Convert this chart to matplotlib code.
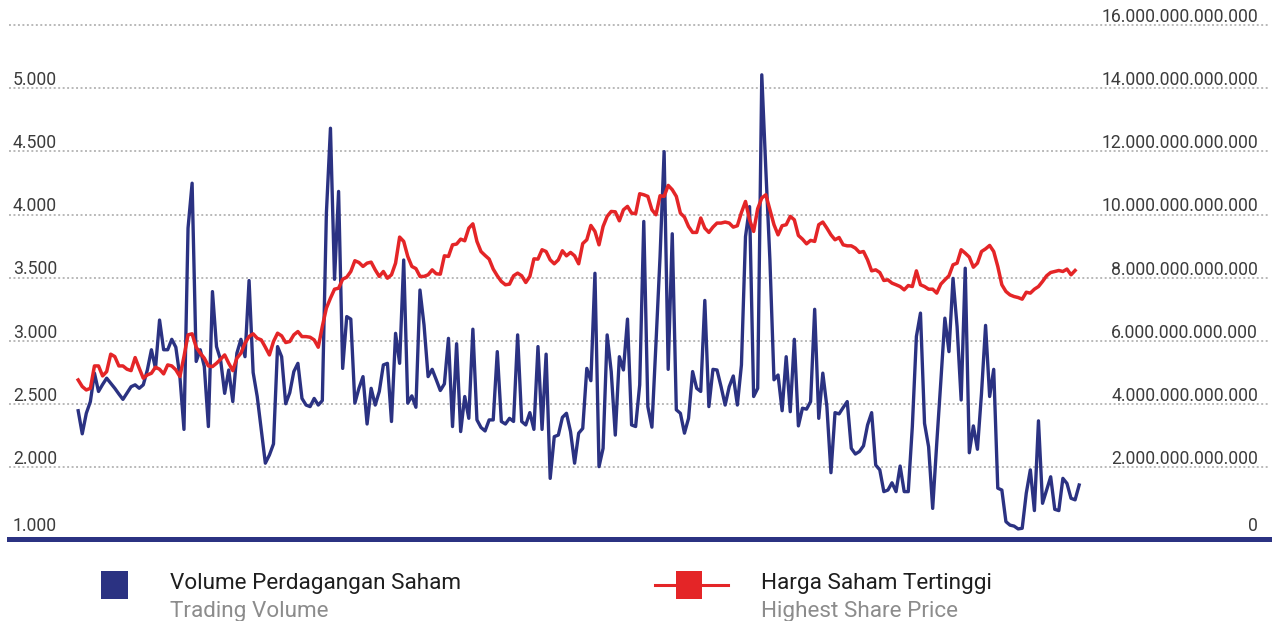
import matplotlib.pyplot as plt
from matplotlib.patches import Rectangle
from matplotlib.lines import Line2D

plt.rcParams['font.family'] = ['Roboto', 'DejaVu Sans']

# daily trading volume, in trillions (right axis)
volume_trillion = [
    3.79, 3.06, 3.71, 4.08, 4.98, 4.40, 4.62, 4.82, 4.66, 4.50,
    4.32, 4.15, 4.35, 4.55, 4.61, 4.50, 4.61, 5.08, 5.72, 5.13,
    6.66, 5.72, 5.72, 6.05, 5.80, 4.87, 3.20, 9.57, 10.99, 5.35,
    5.72, 5.19, 3.29, 7.56, 5.82, 5.40, 4.34, 5.08, 4.08, 5.61,
    6.05, 5.50, 7.91, 5.00, 4.24, 3.18, 2.13, 2.39, 2.74, 5.82,
    5.50, 4.01, 4.36, 5.03, 5.29, 4.18, 3.97, 3.92, 4.18, 3.97,
    4.11, 10.04, 12.73, 7.95, 10.73, 5.13, 6.77, 6.69, 4.03, 4.50,
    4.87, 3.37, 4.50, 3.97, 4.40, 5.24, 5.29, 3.45, 6.24, 5.29,
    8.56, 4.03, 4.26, 3.90, 7.61, 6.50, 4.87, 5.10, 4.77, 4.43,
    4.64, 6.08, 3.29, 5.91, 3.13, 4.24, 3.55, 6.37, 3.50, 3.26,
    3.15, 3.50, 3.50, 5.66, 3.45, 3.37, 3.55, 3.45, 6.19, 3.45,
    3.34, 3.73, 3.20, 5.82, 3.20, 5.58, 1.65, 2.97, 3.02, 3.58,
    3.71, 3.13, 2.13, 3.08, 3.23, 5.13, 4.74, 8.14, 2.02, 2.60,
    6.19, 5.03, 3.02, 5.50, 5.08, 6.69, 3.34, 3.29, 4.61, 9.78,
    3.92, 3.27, 5.93, 8.67, 11.99, 5.10, 9.39, 3.82, 3.71, 3.08,
    3.55, 5.03, 4.50, 4.40, 7.28, 3.92, 5.10, 5.08, 4.55, 3.97,
    4.55, 4.89, 3.97, 5.24, 9.30, 10.25, 4.24, 4.50, 14.42, 11.41,
    8.56, 4.77, 4.92, 3.79, 5.50, 3.76, 6.05, 3.31, 3.87, 3.84,
    4.08, 7.00, 3.55, 4.98, 3.92, 1.83, 3.73, 3.69, 3.89, 4.08,
    2.60, 2.42, 2.50, 2.68, 3.34, 3.73, 2.07, 1.92, 1.23, 1.28,
    1.51, 1.23, 2.04, 1.23, 1.23, 3.29, 6.14, 6.88, 3.39, 2.65,
    0.70, 2.76, 4.71, 6.72, 5.66, 7.98, 6.45, 4.13, 8.30, 2.46,
    3.31, 2.57, 4.34, 6.49, 4.24, 5.10, 1.34, 1.28, 0.28, 0.17,
    0.14, 0.05, 0.07, 1.18, 1.92, 0.63, 3.47, 0.86, 1.28, 1.70,
    0.67, 0.63, 1.65, 1.49, 1.02, 0.97, 1.44,
]

# daily highest share price (left axis)
price = [
    2691, 2639, 2612, 2625, 2802, 2802, 2723, 2757, 2895, 2876,
    2802, 2802, 2776, 2765, 2868, 2784, 2705, 2731, 2744, 2792,
    2776, 2739, 2810, 2802, 2771, 2718, 2876, 3048, 3056, 2950,
    2903, 2863, 2802, 2797, 2823, 2855, 2889, 2823, 2765, 2863,
    2903, 2982, 3035, 3056, 3021, 3008, 2950, 2889, 2995, 3061,
    3040, 2987, 2995, 3048, 3074, 3034, 3034, 3029, 3008, 2950,
    3114, 3259, 3338, 3409, 3417, 3488, 3504, 3549, 3634, 3620,
    3589, 3615, 3623, 3562, 3510, 3549, 3496, 3523, 3615, 3821,
    3787, 3668, 3589, 3572, 3510, 3510, 3523, 3562, 3531, 3528,
    3673, 3668, 3760, 3766, 3805, 3792, 3892, 3926, 3787, 3707,
    3676, 3647, 3568, 3515, 3470, 3444, 3449, 3515, 3536, 3515,
    3462, 3510, 3649, 3647, 3721, 3707, 3641, 3610, 3641, 3713,
    3673, 3700, 3673, 3610, 3770, 3800, 3913, 3866, 3760, 3905,
    3985, 4024, 4021, 3950, 4037, 4064, 4011, 4006, 4164, 4156,
    4143, 4037, 3998, 4148, 4143, 4230, 4196, 4143, 4011, 3979,
    3905, 3858, 3858, 3972, 3892, 3858, 3900, 3932, 3932, 3940,
    3932, 3900, 3911, 4016, 4103, 3958, 3866, 4046, 4130, 4156,
    4037, 3919, 3839, 3911, 3919, 3985, 3958, 3834, 3805, 3768,
    3795, 3787, 3919, 3940, 3892, 3839, 3800, 3818, 3760, 3752,
    3752, 3734, 3700, 3707, 3641, 3554, 3562, 3541, 3478, 3483,
    3457, 3444, 3430, 3404, 3438, 3430, 3554, 3444, 3430, 3409,
    3409, 3378, 3449, 3483, 3515, 3602, 3615, 3721, 3694, 3663,
    3583, 3615, 3707, 3728, 3755, 3707, 3589, 3444, 3391, 3364,
    3351, 3343, 3330, 3385, 3378, 3409, 3430, 3470, 3515, 3541,
    3549, 3557, 3549, 3568, 3523, 3557,
]

volume_ticks = [2, 4, 6, 8, 10, 12, 14, 16]          # trillions
price_ticks = [2000, 2500, 3000, 3500, 4000, 4500, 5000]

legend_items = [
    ('Volume Perdagangan Saham', 'Trading Volume'),
    ('Harga Saham Tertinggi', 'Highest Share Price'),
]

NAVY = '#2b3282'
RED = '#e42527'
GRID = '#b9b9b9'
LABEL = '#3c3c3c'

W, H = 1272, 621
fig = plt.figure(figsize=(W / 100, H / 100), dpi=100)


def fx(px):
    return px / W


def fy(py):
    return 1 - py / H


# volume axis (right scale) sits underneath, holds the grid
vol_ax = fig.add_axes([fx(9), fy(539), fx(1270) - fx(9), fy(5) - fy(539)])
price_ax = vol_ax.twinx()

vol_ax.set_xlim(-17.0, 292.9)
vol_ax.set_ylim(-0.269, 16.63)
price_ax.set_ylim(1433, 5657)

vol_ax.set_yticks(volume_ticks)
vol_ax.set_xticks([])
vol_ax.grid(axis='y', color=GRID, linewidth=1.4, linestyle=(0, (1, 1.3)))
vol_ax.set_axisbelow(True)
vol_ax.tick_params(length=0, labelleft=False, labelright=False)
price_ax.set_yticks([])

for a in (vol_ax, price_ax):
    for side in ('top', 'left', 'right', 'bottom'):
        a.spines[side].set_visible(False)
vol_ax.spines['bottom'].set_visible(True)
vol_ax.spines['bottom'].set_color(NAVY)
vol_ax.spines['bottom'].set_linewidth(3.6)

vol_ax.plot(range(len(volume_trillion)), volume_trillion, color=NAVY, lw=2.4,
            solid_joinstyle='round')
price_ax.plot(range(len(price)), price, color=RED, lw=2.5,
              solid_joinstyle='round')

# axis labels, drawn inside the plot just above each grid line
right_x = (1258 - 9) / (1270 - 9)
left_x = (13 - 9) / (1270 - 9)
for v in volume_ticks:
    txt = f'{int(v * 1e12):,}'.replace(',', '.')
    vol_ax.annotate(txt, xy=(right_x, v), xycoords=vol_ax.get_yaxis_transform(),
                    xytext=(0, 2.3), textcoords='offset points',
                    ha='right', va='baseline', fontsize=12.7, color=LABEL)
vol_ax.annotate('0', xy=(right_x, 0), xycoords='axes fraction',
                xytext=(0, 5.6), textcoords='offset points',
                ha='right', va='baseline', fontsize=12.7, color=LABEL)

for v in price_ticks:
    txt = f'{v:,}'.replace(',', '.')
    price_ax.annotate(txt, xy=(left_x, v), xycoords=price_ax.get_yaxis_transform(),
                      xytext=(0, 2.3), textcoords='offset points',
                      ha='left', va='baseline', fontsize=12.7, color=LABEL)
price_ax.annotate('1.000', xy=(left_x, 0), xycoords='axes fraction',
                  xytext=(0, 5.6), textcoords='offset points',
                  ha='left', va='baseline', fontsize=12.7, color=LABEL)

# legend
fig.add_artist(Rectangle((fx(101), fy(599)), fx(27), 28 / H, color=NAVY, lw=0))
fig.add_artist(Line2D([fx(655), fx(728)], [fy(585), fy(585)], color=RED, lw=2.2))
fig.add_artist(Rectangle((fx(676), fy(599)), fx(26), 28 / H, color=RED, lw=0))

for (main, sub), x0 in zip(legend_items, (170, 761)):
    fig.text(fx(x0), fy(589), main, fontsize=16.2, color='#1e1e1e',
             ha='left', va='baseline')
    fig.text(fx(x0), fy(617), sub, fontsize=16.2, color='#8c8c8c',
             ha='left', va='baseline')

fig.savefig('out.png', dpi=100)
